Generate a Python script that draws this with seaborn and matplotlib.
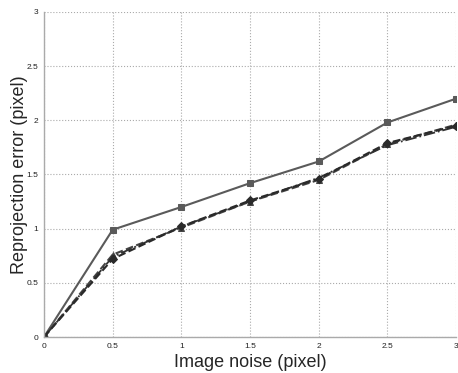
import matplotlib
matplotlib.use("Agg")
import matplotlib.pyplot as plt
import seaborn as sns
import pandas as pd

noise = [0, 0.5, 1, 1.5, 2, 2.5, 3]
err_square = [0, 0.99, 1.20, 1.42, 1.62, 1.98, 2.20]
err_diamond = [0, 0.72, 1.02, 1.26, 1.46, 1.79, 1.95]
err_triangle = [0, 0.76, 1.01, 1.25, 1.45, 1.78, 1.96]
err_circle = [0, 0.74, 1.02, 1.25, 1.47, 1.77, 1.94]

sns.set_style("white")
plt.rcParams['font.family'] = ['Liberation Sans', 'DejaVu Sans']

fig = plt.figure(figsize=(4.58, 3.73), dpi=100)
ax = fig.add_axes([0.096, 0.0965, 0.9, 0.8715])

series = [
    (err_square, "s", "-", "#5a5a5a", 1.5, 4),
    (err_triangle, "^", "--", "#444444", 1.5, 5),
    (err_circle, "o", "-.", "#333333", 1.3, 3),
    (err_diamond, "D", "--", "#2a2a2a", 1.5, 4.5),
]
for vals, mk, ls, col, lw, ms in series:
    df = pd.DataFrame({"noise": noise, "err": vals})
    sns.lineplot(data=df, x="noise", y="err", ax=ax, color=col, linestyle=ls,
                 linewidth=lw, marker=mk, markersize=ms, markeredgecolor=col,
                 markerfacecolor=col)

ax.set_xlim(0, 3)
ax.set_ylim(0, 3)
ax.set_xticks([0, 0.5, 1, 1.5, 2, 2.5, 3])
ax.set_xticklabels(["0", "0.5", "1", "1.5", "2", "2.5", "3"])
ax.set_yticks([0, 0.5, 1, 1.5, 2, 2.5, 3])
ax.set_yticklabels(["0", "0.5", "1", "1.5", "2", "2.5", "3"])
ax.tick_params(axis="both", labelsize=6, length=2, pad=2, colors="#222222")
ax.grid(True, linestyle=":", color="#aaaaaa", linewidth=0.8)
for s in ["top", "right"]:
    ax.spines[s].set_visible(False)
for s in ["left", "bottom"]:
    ax.spines[s].set_color("#aaaaaa")
    ax.spines[s].set_linewidth(1.0)
ax.set_xlabel("Image noise (pixel)", fontsize=13, labelpad=3)
ax.set_ylabel("Reprojection error (pixel)", fontsize=13, labelpad=-1)

fig.savefig("out.png", dpi=100)
